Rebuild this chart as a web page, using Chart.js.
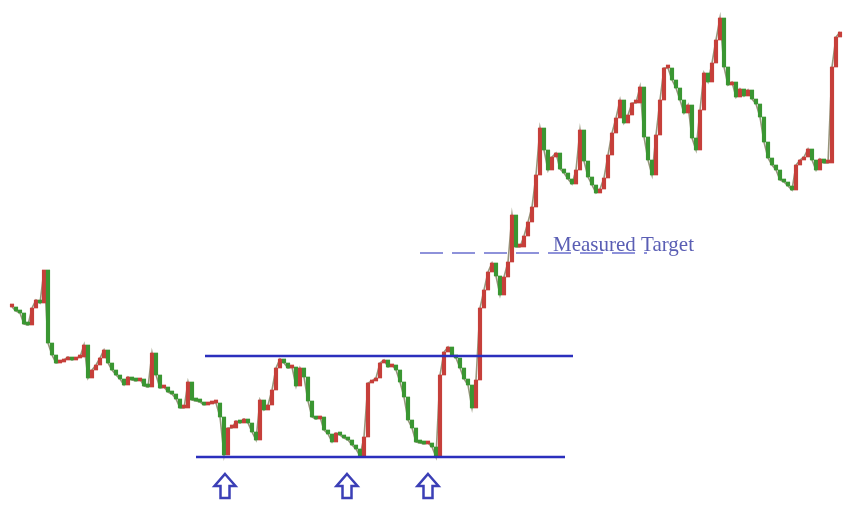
<!DOCTYPE html>
<html>
<head>
<meta charset="utf-8">
<script src="https://cdn.jsdelivr.net/npm/chart.js@4.4.1/dist/chart.umd.min.js"></script>
<style>
html,body{margin:0;padding:0;background:#ffffff;}
#wrap{position:relative;width:851px;height:532px;}
</style>
</head>
<body>
<div id="wrap"><canvas id="c"></canvas></div>
<script>
// Closing prices per session (index units)
const closes = [
233,229,227,216,215,232,240,237,270,197,
185,177,178,180,183,180,182,183,195,162,
170,175,182,190,177,170,165,161,155,163,
160,159,161,154,153,187,165,152,153,148,
146,141,132,132,158,140,139,138,135,136,
137,137,123,85,112,112,119,117,121,117,
108,100,140,130,135,150,172,181,177,172,
173,154,172,163,139,123,121,123,110,106,
98,107,105,102,100,95,91,84,103,157,
159,162,177,180,173,175,170,158,143,120,
112,98,97,96,97,93,83,165,188,193,
185,182,172,161,155,132,160,232,250,268,
277,264,245,263,278,325,293,293,304,318,
333,365,412,390,370,383,387,371,367,361,
356,370,410,379,363,355,347,351,362,385,
407,422,440,417,425,437,437,453,403,380,
365,405,440,472,472,460,452,440,427,435,
402,390,430,467,458,477,500,522,473,455,
458,443,451,444,450,441,436,423,398,382,
375,370,360,358,354,350,375,380,383,391,
380,370,381,377,377,473,503,508
];

// Pattern levels and annotation positions (session index / price)
const resistanceLevel = 184;
const resistanceSpan = [48.25, 140.25];
const supportLevel = 83;
const supportSpan = [46, 138.25];
const targetLevel = 287;
const targetSpan = [102, 158.75];
const targetLabel = "Measured Target";
const targetLabelAt = [135.25, 295];
const arrowSessions = [53.25, 83.75, 104];
const arrowTop = 66;
const arrowBottom = 42;

const opens = closes.map((c, i) => i === 0 ? c : closes[i - 1]);
const bodies = closes.map((c, i) => ({x: i, y: [opens[i], c]}));
const path = closes.map((c, i) => ({x: i, y: c}));

const UP = '#c63f3a';
const DOWN = '#3a9632';

const annotate = {
  id: 'annotate',
  afterDatasetsDraw(chart) {
    const {ctx, scales: {x, y}} = chart;
    ctx.save();
    ctx.font = '21px "Liberation Serif", "Times New Roman", serif';
    ctx.fillStyle = '#5a5eb4';
    ctx.textBaseline = 'alphabetic';
    ctx.fillText(targetLabel, x.getPixelForValue(targetLabelAt[0]), y.getPixelForValue(targetLabelAt[1]) + 6);
    ctx.strokeStyle = '#3b3fb6';
    ctx.lineWidth = 2.5;
    ctx.lineJoin = 'miter';
    ctx.fillStyle = '#ffffff';
    arrowSessions.forEach(s => {
      const cx = x.getPixelForValue(s);
      const t = y.getPixelForValue(arrowTop);
      const b = y.getPixelForValue(arrowBottom);
      const hh = (b - t) * 0.5;
      ctx.beginPath();
      ctx.moveTo(cx, t);
      ctx.lineTo(cx + 10.5, t + hh);
      ctx.lineTo(cx + 4.5, t + hh);
      ctx.lineTo(cx + 4.5, b);
      ctx.lineTo(cx - 4.5, b);
      ctx.lineTo(cx - 4.5, t + hh);
      ctx.lineTo(cx - 10.5, t + hh);
      ctx.closePath();
      ctx.fill();
      ctx.stroke();
    });
    ctx.restore();
  }
};

new Chart(document.getElementById('c'), {
  data: {
    datasets: [
      {
        type: 'line',
        data: path,
        borderColor: 'rgba(80,78,35,0.6)',
        borderWidth: 1.6,
        pointRadius: 0,
        tension: 0,
        order: 2
      },
      {
        type: 'bar',
        data: bodies,
        barThickness: 3.5,
        minBarLength: 3,
        backgroundColor: ctx => {
          const v = ctx.raw && ctx.raw.y;
          return v && v[1] >= v[0] ? UP : DOWN;
        },
        borderWidth: 0,
        order: 1
      },
      {
        type: 'line',
        data: [{x: resistanceSpan[0], y: resistanceLevel}, {x: resistanceSpan[1], y: resistanceLevel}],
        borderColor: '#2b2fbd',
        borderWidth: 2.5,
        pointRadius: 0,
        order: 0
      },
      {
        type: 'line',
        data: [{x: supportSpan[0], y: supportLevel}, {x: supportSpan[1], y: supportLevel}],
        borderColor: '#2b2fbd',
        borderWidth: 2.5,
        pointRadius: 0,
        order: 0
      },
      {
        type: 'line',
        data: [{x: targetSpan[0], y: targetLevel}, {x: targetSpan[1], y: targetLevel}],
        borderColor: '#8e92da',
        borderWidth: 2,
        borderDash: [23, 9],
        pointRadius: 0,
        order: 0
      }
    ]
  },
  options: {
    responsive: true,
    maintainAspectRatio: false,
    animation: false,
    layout: {padding: 0},
    plugins: {legend: {display: false}, tooltip: {enabled: false}},
    scales: {
      x: {type: 'linear', display: false, offset: false, grid: {offset: false}, min: -3, max: 209.75},
      y: {type: 'linear', display: false, min: 8, max: 540}
    }
  },
  plugins: [annotate]
});
</script>
</body>
</html>
